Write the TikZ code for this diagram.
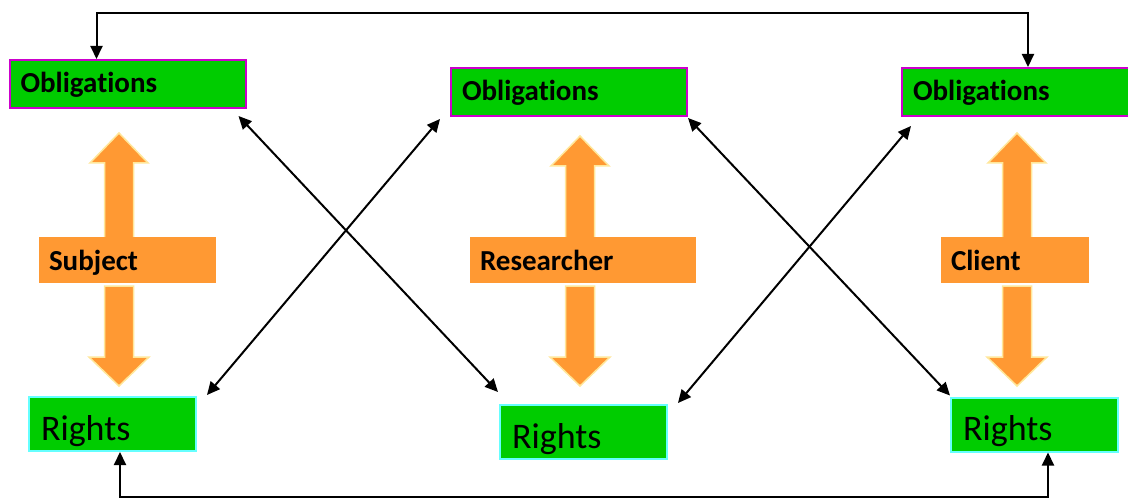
\documentclass[tikz,border=0pt]{standalone}
\usepackage{fontspec}
\setmainfont[Ligatures=NoCommon]{Carlito}
\usetikzlibrary{arrows.meta,calc}
\definecolor{boxgreen}{HTML}{00CC00}
\definecolor{obborder}{HTML}{CC00CC}
\definecolor{rtborder}{HTML}{66FFFF}
\definecolor{orangefill}{HTML}{FF9933}
\definecolor{orangeedge}{HTML}{FFE79A}
\tikzset{
  obbox/.style={draw=obborder, line width=2pt, fill=boxgreen, minimum width=236pt, minimum height=48pt,
    text width=214pt, align=left, inner xsep=11pt, inner ysep=0pt, text height=18pt, text depth=0pt,
    font=\bfseries\fontsize{29}{32}\selectfont, anchor=center},
  rtbox/.style={draw=rtborder, line width=2pt, fill=boxgreen, minimum width=167pt, minimum height=54pt,
    text width=143pt, align=left, inner xsep=12pt, inner ysep=0pt, text height=32pt, text depth=0pt,
    font=\fontsize{36}{40}\selectfont, anchor=center},
  rolebox/.style={fill=orangefill, minimum height=46pt, align=left, inner xsep=10pt, inner ysep=0pt,
    text height=20pt, text depth=0pt, font=\bfseries\fontsize{29}{32}\selectfont, anchor=center},
  fatarrow/.style={fill=orangefill, draw=orangeedge, line width=1.5pt, line join=miter},
  conn/.style={draw=black, line width=2pt, {Triangle[length=13pt,width=12pt]}-{Triangle[length=13pt,width=12pt]}}
}
\begin{document}
\begin{tikzpicture}[x=1pt,y=-1pt]
\clip (0,0) rectangle (1128,500);
\fill[white] (0,0) rectangle (1128,500);
% orange fat arrows
\foreach \cx/\ut/\ub in {119/133/163, 580/136/166, 1017/133/163}{
  \draw[fatarrow] (\cx,\ut) -- (\cx+29,\ub) -- (\cx+14.5,\ub) -- (\cx+14.5,240) -- (\cx-14.5,240) -- (\cx-14.5,\ub) -- (\cx-29,\ub) -- cycle;
  \draw[fatarrow] (\cx-14.5,286) -- (\cx+14.5,286) -- (\cx+14.5,357) -- (\cx+30,357) -- (\cx,386) -- (\cx-30,357) -- (\cx-14.5,357) -- cycle;
}
% role boxes
\node[rolebox, minimum width=177pt, text width=157pt] (s) at (127.5,260) {Subject};
\node[rolebox, minimum width=226pt, text width=206pt] (res) at (583,260) {Researcher};
\node[rolebox, minimum width=148pt, text width=128pt] (c) at (1015,260) {Client};
% obligations
\node[obbox, minimum width=235pt] (o1) at (127.5,84) {Obligations};
\node[obbox] (o2) at (569,92) {Obligations};
\node[obbox] (o3) at (1020,92) {Obligations};
% rights
\node[rtbox] (r1) at (112.5,424) {Rights};
\node[rtbox] (r2) at (583.5,432) {Rights};
\node[rtbox] (r3) at (1034.5,424.5) {Rights};
% top and bottom connectors
\coordinate (t1) at ($(o1.north west)+(88,0)$);
\coordinate (t3) at ($(o3.north west)+(127,0)$);
\coordinate (top) at (560,13);
\draw[conn] (t1) |- (top) -| (t3);
\coordinate (b1) at ($(r1.south west)+(92,0)$);
\coordinate (b3) at ($(r3.south west)+(98,0)$);
\coordinate (bot) at (560,497);
\draw[conn] (b1) |- (bot) -| (b3);
% diagonals
\draw[conn] ($(o1.south east)+(-8,7)$) -- ($(r2.north west)+(-1,-12)$);
\draw[conn] ($(r1.north east)+(10,-1)$) -- ($(o2.south west)+(-10,2)$);
\draw[conn] ($(o2.south east)+(0,1)$) -- ($(r3.north west)+(0,-1)$);
\draw[conn] ($(r2.north east)+(10,-1)$) -- ($(o3.south west)+(10,9)$);
\end{tikzpicture}
\end{document}
